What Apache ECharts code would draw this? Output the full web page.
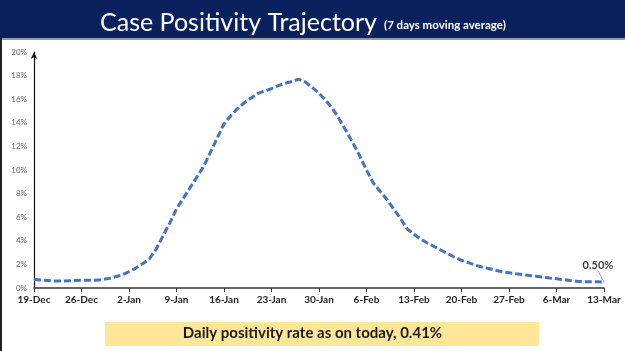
<!DOCTYPE html>
<html>
<head>
<meta charset="utf-8">
<script src="https://cdn.jsdelivr.net/npm/echarts@6/dist/echarts.min.js"></script>
<style>
html,body{margin:0;padding:0;background:#fff;}
#c{width:625px;height:351px;}
</style>
</head>
<body>
<div id="c"></div>
<script>
// Dates (daily, 19-Dec to 13-Mar)
const months = [['Dec', 19, 31], ['Jan', 1, 31], ['Feb', 1, 28], ['Mar', 1, 13]];
const dates = [];
months.forEach(([m, s, e]) => { for (let d = s; d <= e; d++) dates.push(d + '-' + m); });

// 7-day moving average case positivity (%)
const positivity = [
  0.72, 0.68, 0.64, 0.60, 0.59, 0.61, 0.64, 0.66, 0.66, 0.66,
  0.71, 0.81, 0.95, 1.12, 1.38, 1.69, 2.06, 2.46, 3.30, 4.40,
  5.50, 6.70, 7.60, 8.50, 9.40, 10.30, 11.50, 12.70, 13.90, 14.60,
  15.20, 15.70, 16.10, 16.50, 16.70, 16.90, 17.15, 17.35, 17.50, 17.70,
  17.45, 17.00, 16.50, 15.90, 15.20, 14.30, 13.30, 12.30, 11.20, 10.00,
  8.90, 8.20, 7.50, 6.70, 5.90, 5.00, 4.55, 4.15, 3.80, 3.50,
  3.20, 2.90, 2.60, 2.35, 2.15, 1.95, 1.78, 1.65, 1.50, 1.37,
  1.29, 1.21, 1.13, 1.06, 1.00, 0.93, 0.85, 0.78, 0.71, 0.64,
  0.58, 0.54, 0.53, 0.52, 0.50
];

const titleText = 'Case Positivity Trajectory';
const subtitleText = '(7 days moving average)';
const footerText = 'Daily positivity rate as on today, 0.41%';
const lastLabel = '0.50%';

const lastIdx = positivity.length - 1;
const seriesData = positivity.map((v, i) => i === lastIdx
  ? { value: v, symbol: 'circle', symbolSize: 1,
      label: { show: true, formatter: lastLabel, position: 'top' },
      labelLine: { show: true } }
  : { value: v, symbol: 'none' });

const chart = echarts.init(document.getElementById('c'), null, { renderer: 'canvas' });
chart.setOption({
  animation: false,
  backgroundColor: '#ffffff',
  graphic: [
    { type: 'rect', left: 0, top: 0, shape: { width: 625, height: 38 }, style: { fill: '#0b215e' }, z: 0 },
    { type: 'rect', left: 0, top: 38, shape: { width: 625, height: 2 }, style: { fill: '#9a9a9a' }, z: 0 },
    { type: 'rect', left: 0, top: 38, shape: { width: 2, height: 313 }, style: { fill: '#222222' }, z: 0 },
    { type: 'rect', left: 105, top: 322, shape: { width: 434, height: 24 }, style: { fill: '#ffe699' }, z: 0 },
    { type: 'text', left: 'center', top: 326, z: 1,
      style: { text: footerText, font: 'bold 15px Lato', fill: '#1a1a1a' } }
  ],
  title: {
    left: 95, top: 5,
    text: '{a|' + titleText + '} {b|' + subtitleText + '}',
    textStyle: {
      rich: {
        a: { fontFamily: 'Lato', fontSize: 25, color: '#ffffff', fontWeight: 'normal' },
        b: { fontFamily: 'Lato', fontSize: 11.5, color: '#ffffff', fontWeight: 'bold', padding: [6, 0, 0, 2] }
      }
    }
  },
  grid: { left: 34, right: 21, top: 52, bottom: 63, containLabel: false },
  xAxis: {
    type: 'category',
    data: dates,
    boundaryGap: false,
    axisLine: { lineStyle: { color: '#333333', width: 1.5 } },
    axisTick: { show: true, interval: 6, length: 4, lineStyle: { color: '#333333' } },
    axisLabel: { interval: 6, fontFamily: 'Lato', fontWeight: 'bold', fontSize: 10, color: '#222222', margin: 7 },
    splitLine: { show: false }
  },
  yAxis: {
    type: 'value',
    min: 0, max: 20, interval: 2,
    axisLine: { show: true, symbol: ['none', 'arrow'], symbolSize: [5, 7], lineStyle: { color: '#111111', width: 1.2 } },
    axisTick: { show: false },
    axisLabel: { formatter: '{value}%', fontFamily: 'Lato', fontSize: 8, color: '#666666', margin: 7 },
    splitLine: { show: false }
  },
  series: [{
    type: 'line',
    data: seriesData,
    showSymbol: true,
    showAllSymbol: true,
    itemStyle: { color: '#4472c4' },
    smooth: false,
    lineStyle: { color: '#4472c4', width: 3, type: [7, 3] },
    label: { show: false, fontFamily: 'Lato', fontWeight: 'bold', fontSize: 11, color: '#404040' },
    labelLine: { show: true, lineStyle: { color: '#a0a0a0', width: 1 } },
    labelLayout: function (p) { return p.dataIndex === lastIdx ? { dx: -6, dy: -6 } : {}; }
  }]
});
</script>
</body>
</html>
